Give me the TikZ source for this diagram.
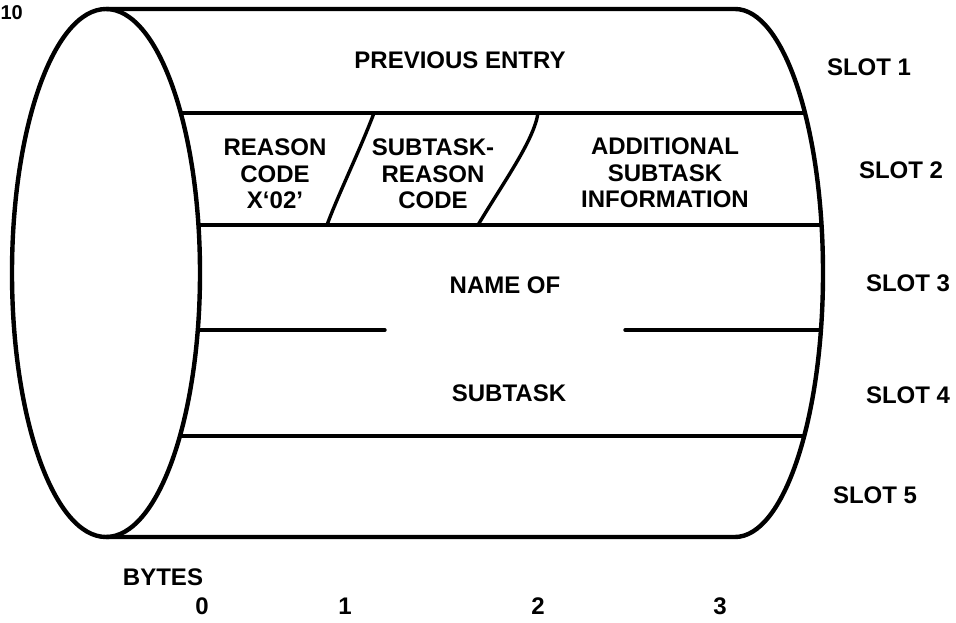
\documentclass[tikz,border=0pt]{standalone}
\usepackage{fontspec}
\setmainfont{Liberation Sans}
\begin{document}
\begin{tikzpicture}[x=1pt,y=-1pt,
  outline/.style={line width=4.4pt},
  rule/.style={line width=3.4pt},
  lbl/.style={font=\fontsize{24}{26.5}\selectfont\bfseries, inner sep=0pt, align=center},
  pagelbl/.style={font=\fontsize{20}{22}\selectfont\bfseries, inner sep=0pt},
  slotlbl/.style={lbl},
]
\useasboundingbox (0,0) rectangle (956,623);

% body outline used to trim the slot separators
\begin{scope}
  \clip (106,9) -- (735,9)
        arc[start angle=-90, end angle=90, x radius=88, y radius=264]
        -- (106,537)
        arc[start angle=90, end angle=-90, x radius=94, y radius=264]
        -- cycle;
  \draw[rule] (0,113) -- (900,113);
  \draw[rule] (0,225) -- (900,225);
  \draw[rule, line cap=round] (0,330) -- (385,330);
  \draw[rule, line cap=round] (625,330) -- (900,330);
  \draw[rule] (0,436) -- (900,436);
\end{scope}

% field dividers in slot 2
\draw[rule] (374,113) .. controls (360,150) and (338,195) .. (327,225);
\draw[rule] (538,113) .. controls (534,140) and (505,180) .. (478,225);

% cylinder
\draw[outline] (106,273) ellipse[x radius=94, y radius=264];
\draw[outline] (106,9) -- (735,9)
      arc[start angle=-90, end angle=90, x radius=88, y radius=264]
      -- (106,537);

% texts
\node[pagelbl, anchor=east] (pg) at (23,13) {10};
\node[lbl] (prev) at (460,60) {PREVIOUS ENTRY};
\node[lbl] (reason) at (275,174) {REASON\\CODE\\X‘02’};
\node[lbl] (subreason) at (433,174) {SUBTASK-\\REASON\\CODE};
\node[lbl] (addl) at (665,173) {ADDITIONAL\\SUBTASK\\INFORMATION};
\node[lbl] (nameof) at (505,285) {NAME OF};
\node[lbl] (subtask) at (509,393) {SUBTASK};

\node[slotlbl] (s1) at (869,67) {SLOT 1};
\node[slotlbl] (s2) at (901,170) {SLOT 2};
\node[slotlbl] (s3) at (908,283) {SLOT 3};
\node[slotlbl] (s4) at (908,395) {SLOT 4};
\node[slotlbl] (s5) at (875,495) {SLOT 5};

\node[lbl] (bytes) at (163,577) {BYTES};
\node[lbl] (b0) at (202,606) {0};
\node[lbl] (b1) at (345,606) {1};
\node[lbl] (b2) at (538,606) {2};
\node[lbl] (b3) at (720,606) {3};
\end{tikzpicture}
\end{document}
